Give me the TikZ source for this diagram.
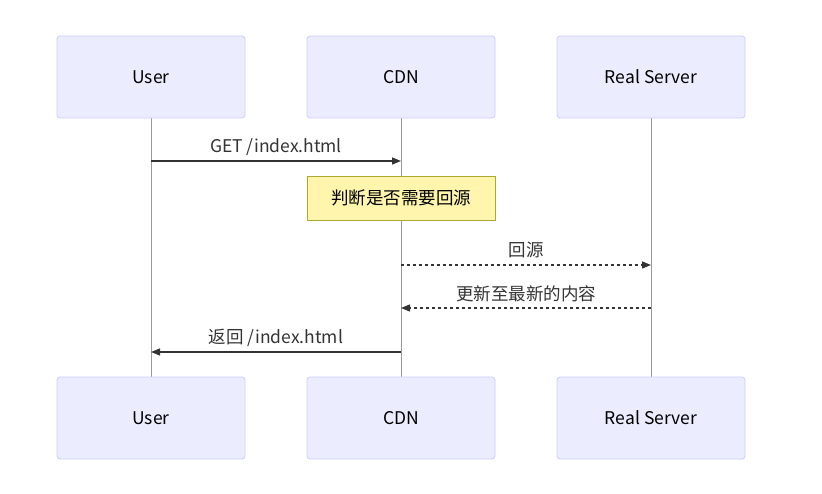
\documentclass[tikz,border=0pt]{standalone}
\usepackage{fontspec}
\setmainfont{Noto Sans CJK SC}
\usetikzlibrary{arrows.meta}
\definecolor{actfill}{HTML}{ECECFF}
\definecolor{actdraw}{HTML}{CCCCFF}
\definecolor{notefill}{HTML}{FFF5AD}
\definecolor{notedraw}{HTML}{AAAA33}
\definecolor{txt}{HTML}{333333}
\definecolor{life}{HTML}{999999}
\tikzset{
  actor/.style={draw=actdraw, fill=actfill, rounded corners=3pt, minimum width=188pt, minimum height=82pt, inner sep=0pt, font=\fontsize{17.5}{20}\selectfont, text=black, line width=0.8pt},
  notebox/.style={draw=notedraw, fill=notefill, minimum width=188pt, minimum height=44pt, inner sep=0pt, font=\fontsize{17.5}{20}\selectfont, text=black, line width=0.8pt},
  lifeline/.style={draw=life, line width=0.6pt},
  msg/.style={draw=txt, line width=1.4pt, -{Triangle[length=9pt,width=7pt]}},
  dmsg/.style={msg, dash pattern=on 3pt off 3pt},
  lbl/.style={font=\fontsize{17.5}{20}\selectfont, text=txt, inner sep=0pt}
}
\begin{document}
\begin{tikzpicture}[x=1pt,y=-1pt]
\useasboundingbox (0,0) rectangle (822,494);
% lifelines
\coordinate (uT) at (151,118); \coordinate (uB) at (151,377);
\coordinate (cT) at (401,118); \coordinate (cB) at (401,377);
\coordinate (rT) at (651,118); \coordinate (rB) at (651,377);
\draw[lifeline] (uT) -- (uB);
\draw[lifeline] (cT) -- (cB);
\draw[lifeline] (rT) -- (rB);
% actors
\node[actor] (u1) at (151,77) {User};
\node[actor] (c1) at (401,77) {CDN};
\node[actor] (r1) at (651,77) {Real Server};
\node[actor] (u2) at (151,418) {User};
\node[actor] (c2) at (401,418) {CDN};
\node[actor] (r2) at (651,418) {Real Server};
% message anchors
\coordinate (m1u) at (151,161); \coordinate (m1c) at (401,161);
\coordinate (m2c) at (401,265); \coordinate (m2r) at (651,265);
\coordinate (m3c) at (401,308); \coordinate (m3r) at (651,308);
\coordinate (m4u) at (151,352); \coordinate (m4c) at (401,352);
\draw[msg] (m1u) -- (m1c);
\node[lbl] (l1) at (276,147) {GET /index.html};
\node[notebox] (n1) at (401,198) {判断是否需要回源};
\draw[dmsg] (m2c) -- (m2r);
\node[lbl] (l2) at (526,250) {回源};
\draw[dmsg] (m3r) -- (m3c);
\node[lbl] (l3) at (526,294) {更新至最新的内容};
\draw[msg] (m4c) -- (m4u);
\node[lbl] (l4) at (276,338) {返回 /index.html};
\end{tikzpicture}
\end{document}
